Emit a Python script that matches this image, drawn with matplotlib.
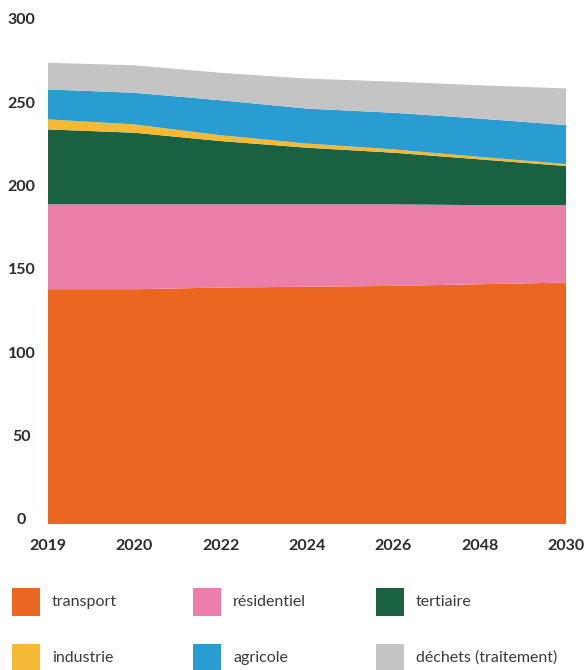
import matplotlib.pyplot as plt
from matplotlib.patches import Rectangle

# data
years = ['2019', '2020', '2022', '2024', '2026', '2048', '2030']
transport = [141, 141, 142, 142.5, 143, 144, 145]
residentiel = [51, 51, 50, 49.5, 49, 47.5, 46.5]
tertiaire = [45, 43, 38, 34, 31, 27.5, 23.5]
industrie = [6, 5, 3.5, 2.5, 2, 1.5, 1.2]
agricole = [18, 19, 21, 21, 22, 23, 23.4]
dechets = [16, 16.5, 16.5, 18, 18.7, 20, 22]

labels = ['transport', 'résidentiel', 'tertiaire',
          'industrie', 'agricole', 'déchets (traitement)']
colors = ['#EB6620', '#EC7FA9', '#1A6142', '#F4BA35', '#299DD2', '#C4C4C4']

plt.rcParams['font.family'] = ['Lato', 'DejaVu Sans']

fig = plt.figure(figsize=(5.88, 6.70), dpi=100)
ax = fig.add_axes([48 / 588, 146 / 670, 518 / 588, 499.5 / 670])

x = list(range(len(years)))
ax.stackplot(x, transport, residentiel, tertiaire, industrie, agricole, dechets,
             colors=colors, linewidth=0)

ax.set_xlim(0, len(years) - 1)
ax.set_ylim(0, 300)
for s in ax.spines.values():
    s.set_visible(False)
ax.tick_params(length=0)

ax.set_xticks(x)
ax.set_xticklabels(years, fontsize=11.5, fontweight='bold', color='#2b2b2b')
ax.tick_params(axis='x', pad=11)

yt = [0, 50, 100, 150, 200, 250, 300]
ax.set_yticks(yt)
ax.set_yticklabels([str(v) for v in yt], fontsize=11.5, fontweight='bold',
                   color='#2b2b2b', ha='center', va='baseline')
ax.tick_params(axis='y', pad=19)

# legend drawn by hand, 3 columns x 2 rows
col_x = [12, 193, 376]
row_y = [602, 658]
for i, (lab, c) in enumerate(zip(labels, colors)):
    cx = col_x[i % 3]
    cy = row_y[i // 3]
    fig.patches.append(Rectangle((cx / 588, (670 - cy - 14) / 670), 28 / 588, 28 / 670,
                                 transform=fig.transFigure, facecolor=c,
                                 edgecolor='none'))
    fig.text((cx + 40) / 588, (670 - cy) / 670, lab, fontsize=11.5,
             color='#3a3a3a', va='center', ha='left')

fig.savefig('out.png', dpi=100)
